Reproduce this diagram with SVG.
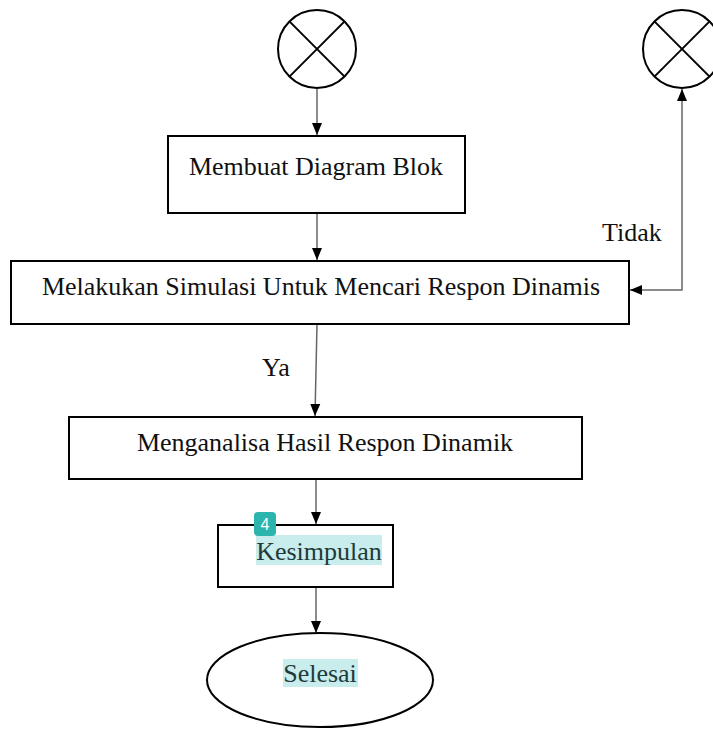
<svg xmlns="http://www.w3.org/2000/svg" width="713" height="729" viewBox="0 0 713 729">
  <defs>
    <marker id="arr" viewBox="0 0 12 12" refX="12" refY="6" markerWidth="12" markerHeight="12" markerUnits="userSpaceOnUse" orient="auto-start-reverse">
      <path d="M0,1 L12,6 L0,11 Z" fill="#000"/>
    </marker>
    <style>
      .box { fill: #fff; stroke: #000; stroke-width: 2; }
      .sym { fill: #fff; stroke: #000; stroke-width: 2; }
      .lbl { font-family: "Liberation Serif", "Times New Roman", serif; font-size: 26px; fill: #111; }
      .hl { fill: #c9ecec; }
      .hltext { fill: #1e3a3a; }
      .conn { fill: none; stroke: #666; stroke-width: 1.5; marker-end: url(#arr); }
    </style>
  </defs>
  <rect width="713" height="729" fill="#fff"/>

  <g id="connectors">
    <line class="conn" x1="317" y1="89" x2="317" y2="135"/>
    <line class="conn" x1="317" y1="213" x2="317" y2="260"/>
    <polyline class="conn" points="630,290 682,290 682,89" marker-start="url(#arr)"/>
    <line class="conn" x1="317" y1="324" x2="315" y2="416"/>
    <line class="conn" x1="316" y1="479" x2="316" y2="524"/>
    <line class="conn" x1="316" y1="587" x2="316" y2="633"/>
    <text class="lbl" x="602" y="241">Tidak</text>
    <text class="lbl" x="262" y="376">Ya</text>
  </g>

  <g id="start1">
    <circle class="sym" cx="317" cy="49" r="39"/>
    <line x1="289.4" y1="21.4" x2="344.6" y2="76.6" stroke="#000" stroke-width="2"/>
    <line x1="344.6" y1="21.4" x2="289.4" y2="76.6" stroke="#000" stroke-width="2"/>
  </g>

  <g id="start2">
    <circle class="sym" cx="682" cy="49" r="39"/>
    <line x1="654.4" y1="21.4" x2="709.6" y2="76.6" stroke="#000" stroke-width="2"/>
    <line x1="709.6" y1="21.4" x2="654.4" y2="76.6" stroke="#000" stroke-width="2"/>
  </g>

  <g id="node-diagram">
    <rect class="box" x="168" y="136" width="297" height="77"/>
    <text class="lbl" x="316" y="175" text-anchor="middle">Membuat Diagram Blok</text>
  </g>

  <g id="node-simulasi">
    <rect class="box" x="11" y="261" width="618" height="63"/>
    <text class="lbl" x="321" y="295" text-anchor="middle">Melakukan Simulasi Untuk Mencari Respon Dinamis</text>
  </g>

  <g id="node-analisa">
    <rect class="box" x="69" y="417" width="513" height="62"/>
    <text class="lbl" x="325" y="451" text-anchor="middle">Menganalisa Hasil Respon Dinamik</text>
  </g>

  <g id="node-kesimpulan">
    <rect class="box" x="218" y="525" width="175" height="62"/>
    <rect class="hl" x="256" y="535" width="126" height="30"/>
    <text class="lbl hltext" x="319" y="560" text-anchor="middle">Kesimpulan</text>
    <rect x="254" y="512" width="22" height="24" rx="4" fill="#2bb5ae"/>
    <text x="265" y="530" text-anchor="middle" font-family="'Liberation Sans', Arial, sans-serif" font-size="16" fill="#fff">4</text>
  </g>

  <g id="node-selesai">
    <ellipse class="sym" cx="320" cy="680" rx="113" ry="47"/>
    <rect class="hl" x="283" y="659" width="75" height="28"/>
    <text class="lbl hltext" x="320" y="682" text-anchor="middle">Selesai</text>
  </g>
</svg>
